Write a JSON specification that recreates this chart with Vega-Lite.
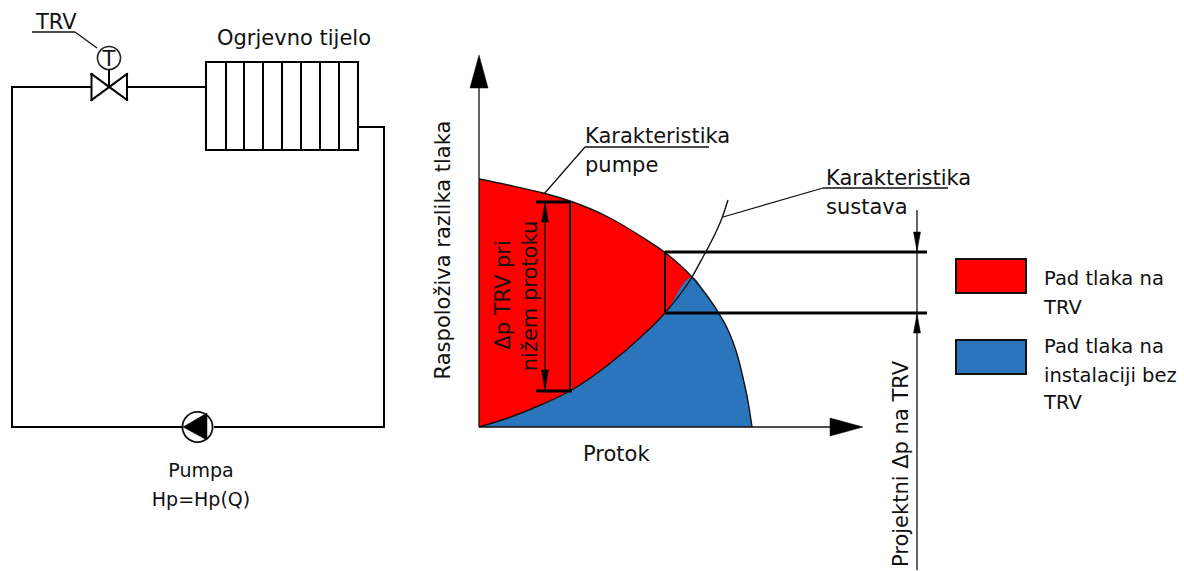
{
"$schema":"https://vega.github.io/schema/vega-lite/v6.json",
"width":1184,"height":571,
"autosize":{"type":"none"},
"padding":0,
"background":"white",
"config":{"view":{"stroke":null},"text":{"font":"DejaVu Sans","fontSize":21,"fill":"#111"}},
"datasets":{
"regions":[
{"series":"Pad tlaka na TRV","x":479,"y":179,"y2":427},
{"series":"Pad tlaka na TRV","x":508,"y":185,"y2":418},
{"series":"Pad tlaka na TRV","x":543,"y":193,"y2":404},
{"series":"Pad tlaka na TRV","x":570,"y":201,"y2":391},
{"series":"Pad tlaka na TRV","x":608,"y":217,"y2":365},
{"series":"Pad tlaka na TRV","x":642,"y":237,"y2":336},
{"series":"Pad tlaka na TRV","x":665,"y":252.5,"y2":313},
{"series":"Pad tlaka na TRV","x":692,"y":277,"y2":277},
{"series":"Pad tlaka na instalaciji","x":479,"y":427,"y2":427},
{"series":"Pad tlaka na instalaciji","x":508,"y":418,"y2":427},
{"series":"Pad tlaka na instalaciji","x":543,"y":404,"y2":427},
{"series":"Pad tlaka na instalaciji","x":570,"y":391,"y2":427},
{"series":"Pad tlaka na instalaciji","x":608,"y":365,"y2":427},
{"series":"Pad tlaka na instalaciji","x":642,"y":336,"y2":427},
{"series":"Pad tlaka na instalaciji","x":665,"y":313,"y2":427},
{"series":"Pad tlaka na instalaciji","x":692,"y":277,"y2":427},
{"series":"Pad tlaka na instalaciji","x":705,"y":293,"y2":427},
{"series":"Pad tlaka na instalaciji","x":718,"y":312,"y2":427},
{"series":"Pad tlaka na instalaciji","x":728,"y":330,"y2":427},
{"series":"Pad tlaka na instalaciji","x":736.7,"y":353,"y2":427},
{"series":"Pad tlaka na instalaciji","x":743.3,"y":379,"y2":427},
{"series":"Pad tlaka na instalaciji","x":748.3,"y":403,"y2":427},
{"series":"Pad tlaka na instalaciji","x":752,"y":427,"y2":427}
],
"swatches":[
{"series":"Pad tlaka na TRV","x":956,"x2":1026,"y":259,"y2":293},
{"series":"Pad tlaka na instalaciji","x":956,"x2":1026,"y":340,"y2":374}
],
"curves":[
{"id":"pump","x":479,"y":179},{"id":"pump","x":508,"y":185},{"id":"pump","x":543,"y":193},{"id":"pump","x":570,"y":201},{"id":"pump","x":608,"y":217},{"id":"pump","x":642,"y":237},{"id":"pump","x":665,"y":252.5},{"id":"pump","x":692,"y":277},{"id":"pump","x":705,"y":293},{"id":"pump","x":718,"y":312},{"id":"pump","x":728,"y":330},{"id":"pump","x":736.7,"y":353},{"id":"pump","x":743.3,"y":379},{"id":"pump","x":748.3,"y":403},{"id":"pump","x":752,"y":427},
{"id":"system","x":479,"y":427},{"id":"system","x":508,"y":418},{"id":"system","x":543,"y":404},{"id":"system","x":570,"y":391},{"id":"system","x":608,"y":365},{"id":"system","x":642,"y":336},{"id":"system","x":665,"y":313},{"id":"system","x":692,"y":277},{"id":"system","x":703,"y":257},{"id":"system","x":715,"y":234},{"id":"system","x":722,"y":218},{"id":"system","x":728,"y":200}
],
"thin":[
{"x":32,"y":32,"x2":75,"y2":32},{"x":75,"y":32,"x2":97,"y2":48},
{"x":479,"y":427,"x2":479,"y2":88},{"x":479,"y":427,"x2":830,"y2":427},
{"x":585,"y":147,"x2":709,"y2":147},{"x":585,"y":147,"x2":544,"y2":194},
{"x":823,"y":188,"x2":948,"y2":188},{"x":823,"y":188,"x2":723,"y2":217},
{"x":545,"y":202,"x2":545,"y2":391},
{"x":917,"y":210,"x2":917,"y2":570}
],
"medium":[
{"x":91,"y":87,"x2":12,"y2":87},{"x":12,"y":87,"x2":12,"y2":427},{"x":12,"y":427,"x2":181,"y2":427},
{"x":215,"y":427,"x2":384,"y2":427},{"x":384,"y":427,"x2":384,"y2":127},{"x":384,"y":127,"x2":358,"y2":127},
{"x":127,"y":87,"x2":206,"y2":87},
{"x":206,"y":62,"x2":358,"y2":62},{"x":206,"y":150,"x2":358,"y2":150},{"x":206,"y":62,"x2":206,"y2":150},{"x":358,"y":62,"x2":358,"y2":150},
{"x":226,"y":62,"x2":226,"y2":150},{"x":244,"y":62,"x2":244,"y2":150},{"x":263,"y":62,"x2":263,"y2":150},{"x":282,"y":62,"x2":282,"y2":150},{"x":301,"y":62,"x2":301,"y2":150},{"x":320,"y":62,"x2":320,"y2":150},{"x":339,"y":62,"x2":339,"y2":150},
{"x":91.5,"y":74,"x2":91.5,"y2":100},{"x":91.5,"y":100,"x2":127,"y2":74},{"x":127,"y":74,"x2":127,"y2":100},{"x":127,"y":100,"x2":91.5,"y2":74},
{"x":109,"y":87,"x2":109,"y2":71},
{"x":570,"y":202,"x2":570,"y2":391},
{"x":665,"y":252,"x2":665,"y2":313}
],
"thick":[
{"x":536,"y":202,"x2":570,"y2":202},{"x":536,"y":391,"x2":572,"y2":391},
{"x":665,"y":252,"x2":927,"y2":252},
{"x":665,"y":313,"x2":927,"y2":313}
],
"circles":[
{"x":109,"y":58,"id":"thermostat"}
],
"pumps":[
{"x":197.5,"y":427,"id":"pump"}
],
"arrows":[
{"id":"a1","x":470,"y":88,"y2":88},{"id":"a1","x":479,"y":55,"y2":88},{"id":"a1","x":488,"y":88,"y2":88},
{"id":"a2","x":830,"y":418,"y2":436},{"id":"a2","x":863,"y":427,"y2":427},
{"id":"p","x":183,"y":427,"y2":427},{"id":"p","x":207,"y":413,"y2":440},
{"id":"d1","x":541.5,"y":222,"y2":222},{"id":"d1","x":545,"y":203,"y2":222},{"id":"d1","x":548.5,"y":222,"y2":222},
{"id":"d2","x":541.5,"y":370,"y2":370},{"id":"d2","x":545,"y":370,"y2":391},{"id":"d2","x":548.5,"y":370,"y2":370},
{"id":"d3","x":913.5,"y":232,"y2":232},{"id":"d3","x":917,"y":232,"y2":251},{"id":"d3","x":920.5,"y":232,"y2":232},
{"id":"d4","x":913.5,"y":333,"y2":333},{"id":"d4","x":917,"y":314,"y2":333},{"id":"d4","x":920.5,"y":333,"y2":333}
],
"leftText":[
{"x":36,"y":29,"label":"TRV"},
{"x":585,"y":143,"label":"Karakteristika"},
{"x":585,"y":172,"label":"pumpe"},
{"x":826,"y":185,"label":"Karakteristika"},
{"x":826,"y":214,"label":"sustava"},
{"x":583,"y":461,"label":"Protok"}
],
"legendText":[
{"x":1044,"y":285,"label":"Pad tlaka na"},
{"x":1044,"y":314,"label":"TRV"},
{"x":1044,"y":353,"label":"Pad tlaka na"},
{"x":1044,"y":382,"label":"instalaciji bez"},
{"x":1044,"y":409,"label":"TRV"}
],
"centerText":[
{"x":294,"y":45,"label":"Ogrjevno tijelo"},
{"x":109,"y":66,"label":"T"}
],
"pumpText":[
{"x":201,"y":477,"label":"Pumpa"},
{"x":201,"y":506,"label":"Hp=Hp(Q)"}
],
"rotText":[
{"x":450,"y":250,"label":"Raspoloživa razlika tlaka"},
{"x":510,"y":295,"label":"Δp TRV pri"},
{"x":537,"y":296,"label":"nižem protoku"},
{"x":908,"y":464,"label":"Projektni Δp na TRV"}
]
},
"encoding":{
"x":{"field":"x","type":"quantitative","axis":null,"scale":{"domain":[0,1184],"nice":false,"zero":false}},
"y":{"field":"y","type":"quantitative","axis":null,"scale":{"domain":[0,571],"reverse":true,"nice":false,"zero":false}}
},
"layer":[
{"data":{"name":"regions"},"mark":{"type":"area","interpolate":"monotone"},
 "encoding":{"y2":{"field":"y2"},"fill":{"field":"series","type":"nominal","legend":null,"scale":{"domain":["Pad tlaka na TRV","Pad tlaka na instalaciji"],"range":["#ff0000","#2a75bb"]}}}},
{"data":{"name":"swatches"},"mark":{"type":"rect","stroke":"#111","strokeWidth":2},
 "encoding":{"x2":{"field":"x2"},"y2":{"field":"y2"},"fill":{"field":"series","type":"nominal","legend":null,"scale":{"domain":["Pad tlaka na TRV","Pad tlaka na instalaciji"],"range":["#ff0000","#2a75bb"]}}}},
{"data":{"name":"thin"},"mark":{"type":"rule","stroke":"#111","strokeWidth":1.3},"encoding":{"x2":{"field":"x2"},"y2":{"field":"y2"}}},
{"data":{"name":"medium"},"mark":{"type":"rule","stroke":"#000","strokeWidth":2,"strokeCap":"square"},"encoding":{"x2":{"field":"x2"},"y2":{"field":"y2"}}},
{"data":{"name":"thick"},"mark":{"type":"rule","stroke":"#000","strokeWidth":3},"encoding":{"x2":{"field":"x2"},"y2":{"field":"y2"}}},
{"data":{"name":"curves"},"mark":{"type":"line","interpolate":"monotone","stroke":"#111","strokeWidth":1.4},"encoding":{"detail":{"field":"id"}}},
{"data":{"name":"circles"},"mark":{"type":"point","shape":"circle","filled":true,"fill":"white","fillOpacity":1,"stroke":"#222","strokeWidth":1.6,"strokeOpacity":1,"opacity":1,"size":531}},
{"data":{"name":"pumps"},"mark":{"type":"point","shape":"circle","filled":true,"fill":"white","fillOpacity":1,"stroke":"#111","strokeWidth":1.8,"strokeOpacity":1,"opacity":1,"size":908}},
{"data":{"name":"arrows"},"mark":{"type":"area","fill":"#000","stroke":"#000","strokeWidth":0.5},"encoding":{"y2":{"field":"y2"},"detail":{"field":"id"}}},
{"data":{"name":"leftText"},"mark":{"type":"text","align":"left","baseline":"alphabetic"},"encoding":{"text":{"field":"label"}}},
{"data":{"name":"legendText"},"mark":{"type":"text","align":"left","baseline":"alphabetic","fontSize":19.5},"encoding":{"text":{"field":"label"}}},
{"data":{"name":"centerText"},"mark":{"type":"text","align":"center","baseline":"alphabetic"},"encoding":{"text":{"field":"label"}}},
{"data":{"name":"pumpText"},"mark":{"type":"text","align":"center","baseline":"alphabetic","fontSize":19},"encoding":{"text":{"field":"label"}}},
{"data":{"name":"rotText"},"mark":{"type":"text","align":"center","baseline":"alphabetic","angle":270},"encoding":{"text":{"field":"label"}}}
]
}
